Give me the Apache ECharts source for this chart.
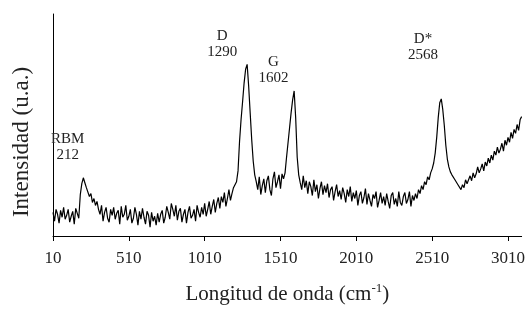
<!DOCTYPE html>
<html>
<head>
<meta charset="utf-8">
<script src="https://cdn.jsdelivr.net/npm/echarts@6/dist/echarts.min.js"></script>
<style>
  html, body { margin: 0; padding: 0; background: #fff; }
  #main { width: 528px; height: 311px; }
</style>
</head>
<body>
<div id="main"></div>
<script>
// espectro Raman, una lectura cada 10 cm-1 desde 10 hasta 3100
var waveStart = 10;
var waveStep = 10;
var intensity = [
  24,15,27,22,13,26,19,29,17,21,
  27,14,20,25,12,28,23,18,42,53,
  59,54,49,51,40,43,34,38,31,35,
  27,22,31,15,24,29,18,14,27,21,
  29,17,23,26,12,30,19,22,31,16,
  20,27,13,18,29,22,11,25,17,28,
  19,12,25,21,9,24,15,20,11,23,
  14,22,26,13,19,30,24,17,33,27,
  20,31,16,25,28,14,22,27,13,24,
  30,18,21,27,15,31,24,19,29,22,
  33,20,27,35,22,30,37,24,33,39,
  28,40,34,44,30,38,47,36,43,49,
  49,55,66,96,118,136,155,169,174,152,
  125,98,76,62,55,47,60,42,51,58,
  44,56,61,47,41,58,65,49,55,62,
  48,63,58,64,80,95,110,125,138,147,
  120,80,62,54,47,61,49,56,43,55,
  50,41,57,45,52,38,48,55,42,51,
  44,53,39,47,50,36,45,52,40,46,
  37,49,43,34,47,40,50,35,44,38,
  46,31,41,45,33,39,48,32,43,36,
  30,42,38,45,29,36,44,33,40,31,
  43,35,28,41,44,32,38,30,45,34,
  31,40,44,33,37,45,30,41,36,43,
  38,47,43,51,47,55,52,60,57,64,
  68,74,84,100,120,135,139,128,112,92,
  78,70,65,62,60,57,55,52,50,47,
  52,49,57,53,55,61,56,64,59,63,
  70,64,68,73,66,75,71,79,74,82,
  77,86,82,90,84,88,94,86,97,92,
  100,95,105,99,108,104,113,107,118,121
];
// picos marcados
var peakNames = ['RBM', 'D', 'G', 'D*'];
var peakWaves = [212, 1290, 1602, 2568];
var xTicks = [10, 510, 1010, 1510, 2010, 2510, 3010];

var spectrum = [];
for (var i = 0; i < intensity.length; i++) {
  spectrum.push([waveStart + i * waveStep, intensity[i]]);
}

// valor del espectro en el punto mas cercano al pico
function valueAt(w) {
  var idx = Math.round((w - waveStart) / waveStep);
  var best = 0;
  for (var k = idx - 1; k <= idx + 1; k++) {
    if (intensity[k] > best) best = intensity[k];
  }
  return best;
}

var labelOffsets = [[-16, -31], [-25, -20], [-21, -21], [-18, -52]];
var peakMarks = [];
for (var p = 0; p < peakNames.length; p++) {
  peakMarks.push({
    coord: [peakWaves[p], valueAt(peakWaves[p])],
    label: {
      offset: labelOffsets[p],
      formatter: peakNames[p] + '\n' + peakWaves[p]
    }
  });
}

var font = 'Liberation Serif, Times New Roman, serif';

var option = {
  animation: false,
  backgroundColor: '#fff',
  grid: { left: 53, right: 5, top: 14, bottom: 72 },
  xAxis: {
    type: 'value',
    min: xTicks[0],
    max: 3100,
    interval: 500,
    axisLine: { lineStyle: { color: '#000', width: 1 } },
    axisTick: { show: true, length: 5, lineStyle: { color: '#000' } },
    axisLabel: {
      color: '#222', fontFamily: font, fontSize: 17, margin: 14,
      showMaxLabel: false,
      formatter: function (v) { return String(v); }
    },
    splitLine: { show: false },
    name: 'Longitud de onda (cm{sup|-1})',
    nameLocation: 'middle',
    nameGap: 46,
    nameTextStyle: {
      color: '#222', fontFamily: font, fontSize: 21, lineHeight: 24,
      rich: {
        sup: { fontFamily: font, fontSize: 13, verticalAlign: 'top', lineHeight: 24, color: '#222' }
      }
    }
  },
  yAxis: {
    type: 'value',
    min: 0,
    max: 225,
    axisLine: { show: true, lineStyle: { color: '#000', width: 1 } },
    axisTick: { show: false },
    axisLabel: { show: false },
    splitLine: { show: false }
  },
  graphic: [{
    type: 'text',
    x: 22,
    y: 142,
    rotation: Math.PI / 2,
    style: {
      text: 'Intensidad (u.a.)',
      font: '23px ' + font,
      fill: '#222',
      textAlign: 'center',
      textVerticalAlign: 'middle'
    }
  }],
  series: [{
    type: 'line',
    data: spectrum,
    showSymbol: false,
    symbol: 'none',
    lineStyle: { color: '#000', width: 1.2 },
    markPoint: {
      symbol: 'circle',
      symbolSize: 1,
      itemStyle: { color: 'rgba(0,0,0,0)' },
      label: {
        show: true,
        position: 'inside',
        color: '#222',
        fontFamily: font,
        fontSize: 15,
        lineHeight: 16
      },
      data: peakMarks
    }
  }]
};

var myChart = echarts.init(document.getElementById('main'));
myChart.setOption(option);
</script>
</body>
</html>
